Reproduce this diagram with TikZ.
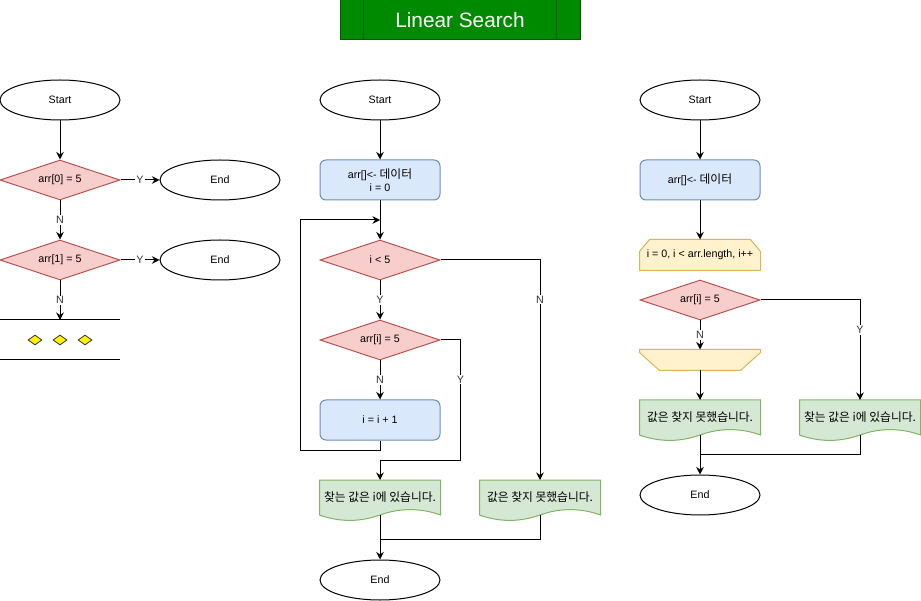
\documentclass[tikz,border=0pt]{standalone}
\usepackage{fontspec}
\setmainfont{Liberation Sans}
\newfontfamily\kr[Scale=1.1]{Noto Sans CJK KR}
\usetikzlibrary{shapes.geometric,arrows.meta,calc}
\pgfdeclarelayer{bg}
\pgfsetlayers{bg,main}
\definecolor{decf}{HTML}{F8CECC}
\definecolor{decb}{HTML}{B85450}
\definecolor{procf}{HTML}{DAE8FC}
\definecolor{procb}{HTML}{6C8EBF}
\definecolor{docf}{HTML}{D5E8D4}
\definecolor{docb}{HTML}{82B366}
\definecolor{loopf}{HTML}{FFF2CC}
\definecolor{loopb}{HTML}{D6B656}
\definecolor{titlef}{HTML}{008A00}
\definecolor{titleb}{HTML}{005700}
\newcommand\fs{\fontsize{10.7}{12.6}\selectfont}
\newcommand\mydocpath[1]{\filldraw[docline] (#1.north west) -- (#1.north east) -- (#1.south east)
  .. controls +(-20,-7.2) and +(20,-7.2) .. (#1.south)
  .. controls +(-20,7.2) and +(20,7.2) .. (#1.south west) -- cycle;}
\tikzset{
  base/.style={font=\fs, inner sep=0pt, line width=1pt},
  term/.style={base, ellipse, draw=black, fill=white, minimum width=120pt, minimum height=40pt},
  dec/.style={base, diamond, aspect=3, draw=decb, fill=decf, minimum width=120pt, minimum height=40pt},
  proc/.style={base, rectangle, rounded corners=6pt, draw=procb, fill=procf, minimum width=120pt, minimum height=40pt, align=center},
  docbox/.style={base, rectangle, minimum width=120pt, minimum height=34pt, anchor=north},
  loopbox/.style={base, rectangle, minimum width=120pt, minimum height=30pt},
  loopbox2/.style={base, rectangle, minimum width=120pt, minimum height=20pt},
  docline/.style={line width=1pt, draw=docb, fill=docf},
  loopline/.style={line width=1pt, draw=loopb, fill=loopf},
  ydia/.style={diamond, draw=black!80, fill=yellow, minimum width=14pt, minimum height=10pt, inner sep=0pt, line width=0.8pt},
  conn/.style={line width=1pt, -{Stealth[length=7.5pt,width=7.5pt]}},
  plain/.style={line width=1pt},
  lbl/.style={font=\fs, fill=white, inner sep=1pt, text=black!80},
  titlebox/.style={rectangle, draw=titleb, fill=titlef, text=white, line width=1pt, minimum width=240pt, minimum height=40pt, inner sep=0pt, font=\fontsize{20.8}{24}\selectfont}
}
\begin{document}
\begin{tikzpicture}[x=1pt,y=-1pt]
\useasboundingbox (0,0) rectangle (921,601);

% title
\node[titlebox] (t) at (460,20) {Linear Search};
\draw[line width=1pt, draw=titleb] ([xshift=24pt]t.north west) -- ([xshift=24pt]t.south west);
\draw[line width=1pt, draw=titleb] ([xshift=-24pt]t.north east) -- ([xshift=-24pt]t.south east);

% ---------- left column ----------
\node[term] (s1) at (60,100) {Start};
\node[dec] (d1) at (60,180) {arr[0] = 5};
\node[term] (e1) at (220,180) {End};
\node[dec] (d2) at (60,260) {arr[1] = 5};
\node[term] (e2) at (220,260) {End};
\coordinate (g) at (60,320);
\draw[plain] (0,320) -- (120,320);
\draw[plain] (0,360) -- (120,360);
\node[ydia] (y1) at (35,340) {};
\node[ydia] (y2) at (60,340) {};
\node[ydia] (y3) at (85,340) {};
\draw[conn] (s1) -- (d1);
\draw[conn] (d1) -- node[lbl]{Y} (e1);
\draw[conn] (d1) -- node[lbl]{N} (d2);
\draw[conn] (d2) -- node[lbl]{Y} (e2);
\draw[conn] (d2) -- node[lbl]{N} (g);

% ---------- middle column ----------
\node[term] (s2) at (380,100) {Start};
\node[proc] (p1) at (380,180) {arr[]<- {\kr 데이터}\\i = 0};
\coordinate (m1) at (380,220);
\node[dec] (d3) at (380,260) {i < 5};
\node[dec] (d4) at (380,340) {arr[i] = 5};
\node[proc] (p2) at (380,420) {i = i + 1};
\node[docbox] (doc1) at (380,480) {\kr 찾는 값은 i에 있습니다.};
\node[docbox] (doc2) at (540,480) {\kr 값은 찾지 못했습니다.};
\node[term] (e3) at (380,580) {End};
\draw[conn] (s2) -- (p1);
\draw[conn] (p1) -- (d3);
\draw[conn] (p2.south) -- ++(0,10) -| ([xshift=-80pt]m1) -- (m1);
\draw[conn] (d3) -- node[lbl]{Y} (d4);
\draw[conn] (d4) -- node[lbl]{N} (p2);
\draw[conn] (d4.east) -- ++(20,0) -- node[lbl,pos=0.33]{Y} ++(0,120) -| (doc1.north);
\draw[conn] (d3.east) -| node[lbl,pos=0.59]{N} (doc2.north);
\draw[conn] (doc1.south) -- (e3);
\draw[plain] (doc2.south) |- ([yshift=20pt]e3.north);

% ---------- right column ----------
\node[term] (s3) at (700,100) {Start};
\node[proc] (p3) at (700,180) {arr[]<- {\kr 데이터}};
\node[loopbox] (l1) at (700,255) {i = 0, i < arr.length, i++};
\node[dec] (d5) at (700,300) {arr[i] = 5};
\node[loopbox2] (l2) at (700,360) {};
\node[docbox] (doc3) at (700,400) {\kr 값은 찾지 못했습니다.};
\node[docbox] (doc4) at (860,400) {\kr 찾는 값은 i에 있습니다.};
\node[term] (e4) at (700,495) {End};
\draw[conn] (s3) -- (p3);
\draw[conn] (p3) -- (l1);
\draw[conn] (d5) -- node[lbl]{N} (l2);
\draw[conn] (l2) -- (doc3);
\draw[conn] (d5.east) -| node[lbl,pos=0.65]{Y} (doc4.north);
\draw[conn] (doc3.south) -- (e4);
\draw[plain] (doc4.south) |- ([yshift=20pt]e4.north);

% background shapes
\begin{pgfonlayer}{bg}
\mydocpath{doc1}
\mydocpath{doc2}
\mydocpath{doc3}
\mydocpath{doc4}
\filldraw[loopline] ([xshift=10pt]l1.north west) -- ([xshift=-10pt]l1.north east) -- ([yshift=-12pt]l1.north east)
  -- (l1.south east) -- (l1.south west) -- ([yshift=-12pt]l1.north west) -- cycle;
\filldraw[loopline] (l2.north west) -- (l2.north east) -- ([yshift=-3pt]l2.north east)
  -- ([xshift=-20pt]l2.south east) -- ([xshift=20pt]l2.south west) -- ([yshift=-3pt]l2.north west) -- cycle;
\end{pgfonlayer}
\end{tikzpicture}
\end{document}
